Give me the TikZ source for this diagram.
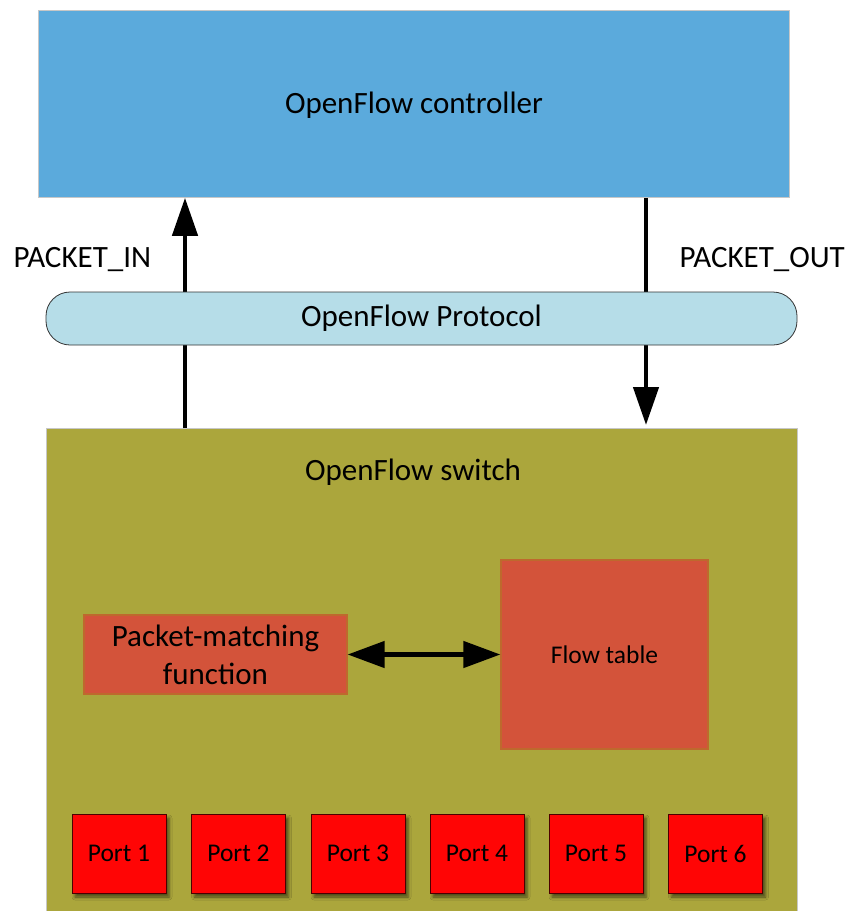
\documentclass[tikz,border=0pt]{standalone}
\usepackage{fontspec}
\setmainfont{Carlito}
\usetikzlibrary{arrows.meta,shadows.blur}
\definecolor{ctrlblue}{RGB}{91,170,220}
\definecolor{protoblue}{RGB}{182,221,232}
\definecolor{olive}{RGB}{171,166,60}
\definecolor{brick}{RGB}{211,83,58}
\definecolor{brickedge}{RGB}{190,105,45}
\definecolor{portred}{RGB}{255,5,5}
\tikzset{
  big/.style={font=\fontsize{31}{37}\selectfont},
  small/.style={font=\fontsize{25.5}{30}\selectfont},
  panel/.style={draw=black!22, line width=0.8pt, inner sep=0pt, anchor=north west},
  fnbox/.style={fill=brick, draw=brickedge, line width=1.2pt, inner sep=0pt, align=center},
  portbox/.style={fill=portred, draw=black!70!red, line width=0.8pt,
    minimum width=94pt, minimum height=79pt, inner sep=0pt, small,
    blur shadow={shadow xshift=3pt, shadow yshift=-4pt, shadow blur radius=3pt, shadow opacity=55}},
  msg/.style={line width=4.5pt, -{Triangle[length=38pt,width=25pt]}},
  both/.style={line width=4.5pt, {Triangle[length=37pt,width=26pt]}-{Triangle[length=37pt,width=26pt]}}
}
\begin{document}
\begin{tikzpicture}[x=1pt,y=-1pt]
\useasboundingbox (0,0) rectangle (855,911);
% controller and switch panels
\node[panel, fill=ctrlblue, minimum width=751pt, minimum height=187pt] (ctrl) at (38,10) {};
\node[big] (ctrltext) at (414,105) {OpenFlow controller};
\node[panel, fill=olive, minimum width=751pt, minimum height=490pt] (sw) at (46,428) {};
\node[big] (swtext) at (413,472) {OpenFlow switch};
% message arrows, crossing behind the protocol bar
\coordinate (inx) at (185,0);
\coordinate (outx) at (646,0);
\draw[msg] (sw.north -| inx) -- (ctrl.south -| inx);
\draw[msg, line cap=butt] (ctrl.south -| outx) -- ([yshift=3pt]sw.north -| outx);
\node[big, anchor=west] (pin) at (10,260) {PACKET\_IN};
\node[big, anchor=west] (pout) at (676,260) {PACKET\_OUT};
% protocol bar
\node[fill=protoblue, draw=black!80, line width=0.8pt, rounded corners=24pt,
  minimum width=751pt, minimum height=53pt, inner sep=0pt, big] (proto) at (421.5,318.5) {OpenFlow Protocol};
% matching function and flow table
\node[fnbox, minimum width=263pt, minimum height=79pt, big] (pmf) at (215.5,654.5) {Packet-matching\\[1pt]function};
\node[fnbox, minimum width=207pt, minimum height=189pt, small] (ft) at (604.5,654.5) {Flow table};
\draw[both] (pmf.east) -- (ft.west);
% ports
\node[portbox] (p1) at (119,853.5) {\raisebox{-2pt}{Port 1}};
\node[portbox] (p2) at (238.5,853.5) {\raisebox{-2pt}{Port 2}};
\node[portbox] (p3) at (358,853.5) {\raisebox{-2pt}{Port 3}};
\node[portbox] (p4) at (477,853.5) {\raisebox{-2pt}{Port 4}};
\node[portbox] (p5) at (596,853.5) {\raisebox{-2pt}{Port 5}};
\node[portbox] (p6) at (715.5,853.5) {\raisebox{-2pt}{Port 6}};
\end{tikzpicture}
\end{document}
